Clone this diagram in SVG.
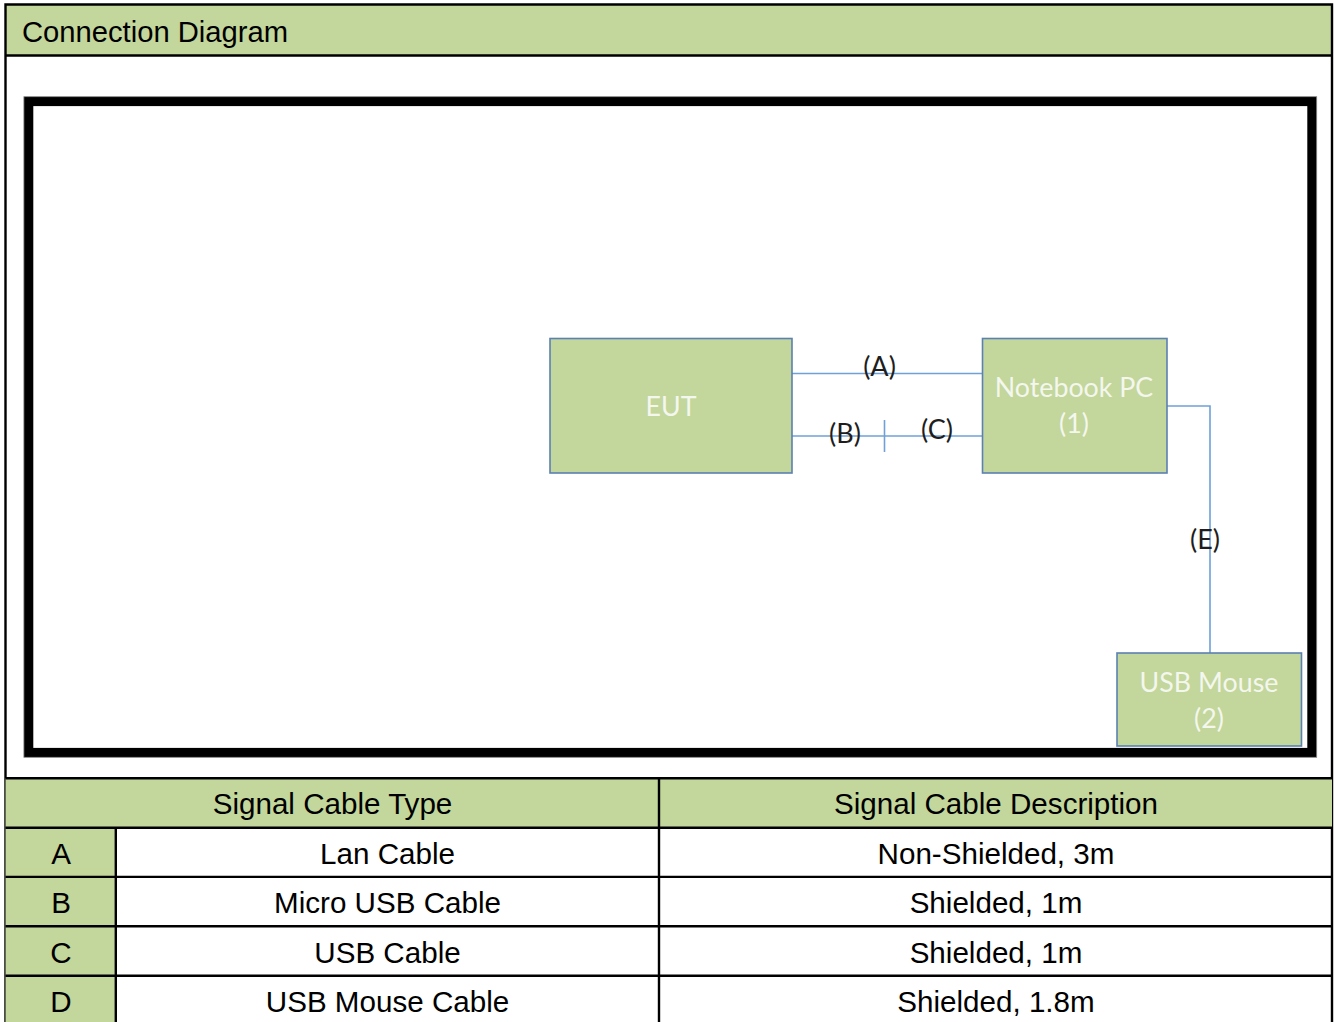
<svg xmlns="http://www.w3.org/2000/svg" width="1335" height="1022" viewBox="0 0 1335 1022">
<style>
.grn{fill:#c3d69b}
.tl{stroke:#000;stroke-width:2.4;fill:none}
.tt{font-family:"Liberation Sans",Arial,sans-serif;font-size:29.6px;fill:#000;text-anchor:middle}
.box{fill:#c3d69b;stroke:#5b80b2;stroke-width:1.6}
.bt{font-family:Lato,"Liberation Sans",sans-serif;font-size:26.8px;fill:#f4f7ee;text-anchor:middle}
.cn{stroke:#6fa0d8;stroke-width:1.6;fill:none}
.cl{font-family:Lato,"Liberation Sans",sans-serif;font-size:27px;fill:#1e1e1e;text-anchor:middle}
</style>
<rect x="0" y="0" width="1335" height="1022" fill="#fff"/>
<!-- title band -->
<rect class="grn" x="5.5" y="4.5" width="1326.5" height="51"/>
<text x="22" y="42" style="font-family:'Liberation Sans',Arial,sans-serif;font-size:29.2px;fill:#000">Connection Diagram</text>
<!-- outer border -->
<path class="tl" d="M5.5 1022 V4.5 H1332 V1022 M5.5 55.5 H1332"/>
<!-- thick frame -->
<rect x="28.6" y="101.4" width="1283.4" height="651.2" fill="none" stroke="#000" stroke-width="9.4"/>
<rect x="23.9" y="96.7" width="1292.8" height="660.6" fill="none" stroke="#888" stroke-width="0.8"/>
<!-- connectors -->
<g id="connectors">
<path class="cn" d="M792 373.5 H982"/>
<path class="cn" d="M792 436 H982"/>
<path class="cn" d="M884.5 420 V452"/>
<path class="cn" d="M1167 406 H1210 V653"/>
<text class="cl" x="879.5" y="376">(A)</text>
<text class="cl" x="845" y="443">(B)</text>
<text class="cl" x="937" y="439">(C)</text>
<text class="cl" x="1205" y="549">(E)</text>
</g>
<g id="eut">
<rect class="box" x="550" y="338.5" width="242" height="134.5"/>
<text class="bt" x="671" y="416">EUT</text>
</g>
<g id="notebook">
<rect class="box" x="982.5" y="338.5" width="184.5" height="134.5"/>
<text class="bt" x="1074" y="396.5">Notebook PC</text>
<text class="bt" x="1074" y="433">(1)</text>
</g>
<g id="mouse">
<rect class="box" x="1117" y="653" width="184.5" height="93"/>
<text class="bt" x="1209" y="692">USB Mouse</text>
<text class="bt" x="1209" y="727.5">(2)</text>
</g>
<!-- table -->
<g id="table">
<rect class="grn" x="5.5" y="778.3" width="1326.5" height="49.4"/>
<rect class="grn" x="5.5" y="827.7" width="110.5" height="195"/>
<path class="tl" d="M5.5 778.3 H1332 M5.5 827.7 H1332 M5.5 876.9 H1332 M5.5 926.3 H1332 M5.5 975.7 H1332 M115.8 827.7 V1022 M659 778.3 V1022"/>
<text class="tt" x="332.5" y="814">Signal Cable Type</text>
<text class="tt" x="996" y="814">Signal Cable Description</text>
<text class="tt" x="61" y="863.5">A</text>
<text class="tt" x="387.5" y="863.5">Lan Cable</text>
<text class="tt" x="996" y="863.5">Non-Shielded, 3m</text>
<text class="tt" x="61" y="913">B</text>
<text class="tt" x="387.5" y="913">Micro USB Cable</text>
<text class="tt" x="996" y="913">Shielded, 1m</text>
<text class="tt" x="61" y="962.5">C</text>
<text class="tt" x="387.5" y="962.5">USB Cable</text>
<text class="tt" x="996" y="962.5">Shielded, 1m</text>
<text class="tt" x="61" y="1012">D</text>
<text class="tt" x="387.5" y="1012">USB Mouse Cable</text>
<text class="tt" x="996" y="1012">Shielded, 1.8m</text>
</g>
</svg>
